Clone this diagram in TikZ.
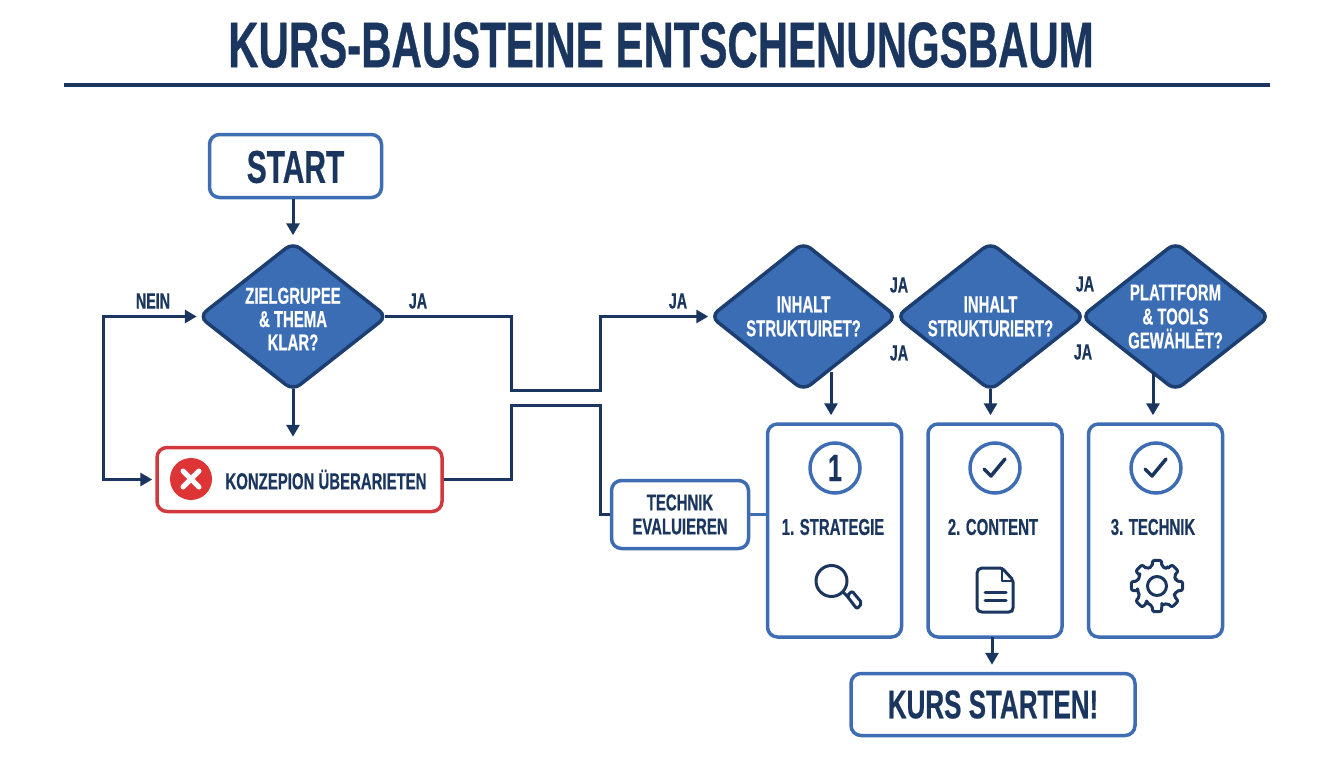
\documentclass[tikz,border=0pt]{standalone}
\usepackage{fontspec}
\usetikzlibrary{shapes.geometric,arrows.meta,calc}
\newfontfamily\cond[FakeStretch=0.65,BoldFeatures={FakeBold=0.5}]{Liberation Sans}
\definecolor{navy}{HTML}{1A365F}
\definecolor{blueline}{HTML}{3F6DB3}
\definecolor{bluefill}{HTML}{3B6DB5}
\definecolor{dstroke}{HTML}{1C3E70}
\definecolor{redline}{HTML}{D2393F}
\definecolor{redfill}{HTML}{DD3435}
\newcommand{\fsz}[2]{\fontsize{#1}{#2}\selectfont\cond\bfseries}
\tikzset{
  flow/.style={draw=navy,line width=3pt,line join=miter},
  tip/.style={-{Triangle[length=12pt,width=13pt]}},
  rbox/.style={draw=blueline,line width=3.5pt,rounded corners=10pt,fill=white,text=navy,align=center,inner sep=0pt},
  card/.style={rbox,minimum width=134pt,minimum height=213pt},
  decide/.style={diamond,draw=dstroke,line width=3.5pt,fill=bluefill,text=white,align=center,inner sep=0pt,
     rounded corners=9pt,minimum width=189pt,minimum height=149pt,shape aspect=1.26,font=\fsz{23}{24}},
  lab/.style={text=navy,font=\fsz{22}{22},inner sep=0pt},
  cardlab/.style={text=navy,font=\fsz{23}{24},inner sep=0pt},
  ic/.style={draw=navy,line width=3pt,line cap=round,line join=round},
  ring/.style={circle,draw=blueline,line width=3.5pt,minimum size=50pt,inner sep=0pt,text=navy},
}
\begin{document}
\begin{tikzpicture}[x=1pt,y=-1pt]
\useasboundingbox (0,0) rectangle (1344,768);
\fill[white] (0,0) rectangle (1344,768);

\node[text=navy,font=\fsz{64.6}{65},inner sep=0pt] (title) at (661,45) {KURS-BAUSTEINE ENTSCHENUNGSBAUM};
\coordinate (ruleL) at (64,85); \coordinate (ruleR) at (1270,85);
\draw[navy,line width=3pt] (ruleL) -- (ruleR);

\node[rbox,minimum width=172pt,minimum height=63pt] (start) at (295.5,166) {};
\node[text=navy,font=\fsz{46}{46},inner sep=0pt] (starttext) at (295.5,167) {START};
\node[decide] (d1) at (293,316.5) {};
\node[text=white,align=center,font=\fsz{23}{23.3},inner sep=0pt] (d1text) at (293,319) {ZIELGRUPEE\\\& THEMA\\KLAR?};
\node[decide,minimum width=187pt] (d2) at (803.5,316.5) {INHALT\\STRUKTUIRET?};
\node[decide] (d3) at (990.5,316.5) {INHALT\\STRUKTURIERT?};
\node[decide] (d4) at (1175.5,316.5) {PLATTFORM\\\& TOOLS\\GEWÄHLĒT?};

\node[rbox,draw=redline,minimum width=285pt,minimum height=64pt] (red) at (299.5,479.5) {};
\node[circle,fill=redfill,minimum size=42pt,inner sep=0pt] (xmark) at (191,479) {};
\draw[white,line width=5pt,line cap=round] ($(xmark)+(-8,-8)$) -- ($(xmark)+(8,8)$) ($(xmark)+(8,-8)$) -- ($(xmark)+(-8,8)$);
\node[text=navy,font=\fsz{23}{24},inner sep=0pt] (redtext) at (326,479.5) {KONZEPION ÜBERARIETEN};

\node[rbox,minimum width=137pt,minimum height=68pt,font=\fsz{23}{24}] (tech) at (680,514.5) {TECHNIK\\EVALUIEREN};
\node[card] (c1) at (834.5,530.5) {};
\node[card] (c2) at (995,530.5) {};
\node[card] (c3) at (1155.5,530.5) {};
\node[rbox,minimum width=284pt,minimum height=62pt,font=\fsz{40}{40}] (finish) at (993,704.5) {KURS STARTEN!};

\node[lab] (nein) at (153,301) {NEIN};
\node[lab] (ja1) at (418,301) {JA};
\node[lab] (ja2) at (678,301) {JA};
\node[lab] (ja3) at (899,285) {JA};
\node[lab] (ja4) at (899,353) {JA};
\node[lab] (ja5) at (1085,284) {JA};
\node[lab] (ja6) at (1083,352) {JA};

\draw[flow,tip,shorten >=5pt] (d1.north |- start.south) -- (d1.north);
\draw[flow,tip,shorten >=9pt] ([yshift=4pt]d1.south) -- (d1.south |- red.north);
\coordinate (l1) at (103,316.5); \coordinate (l2) at (103,479.5);
\draw[flow,{Triangle[length=12pt,width=13pt]}-{Triangle[length=12pt,width=13pt]},shorten >=3pt]
   (d1.west) -- (l1) -- (l2) -- (red.west);
\coordinate (m1) at (511,316.5); \coordinate (m2) at (511,390); \coordinate (m3) at (600,390); \coordinate (m4) at (600,316.5);
\draw[flow,tip] ([xshift=-4pt]d1.east) -- (m1) -- (m2) -- (m3) -- (m4) -- (d2.west);
\coordinate (n1) at (511,479.5); \coordinate (n2) at (511,405); \coordinate (n3) at (600,405); \coordinate (n4) at (600,514.5);
\draw[flow] (red.east) -- (n1) -- (n2) -- (n3) -- (n4) -- (tech.west);
\draw[draw=blueline,line width=3.5pt] (tech.east) -- (c1.west |- tech.east);
\coordinate (a1) at (831,372); \coordinate (a3) at (1153,372);
\draw[flow,tip,shorten >=7pt] (a1) -- (a1 |- c1.north);
\draw[flow,tip,shorten >=7pt] ([yshift=4pt]d3.south) -- (d3.south |- c2.north);
\draw[flow,tip,shorten >=7pt] (a3) -- (a3 |- c3.north);
\coordinate (a2) at (992,637);
\draw[flow,tip,shorten >=7pt] (a2) -- (a2 |- finish.north);

\node[ring,font=\fsz{38}{38}] (r1) at (835,468) {1};
\node[ring] (r2) at (995,468) {};
\node[ring] (r3) at (1156,468) {};
\draw[ic,line width=3.5pt] ($(r2)+(-11,1)$) -- ($(r2)+(-4,8)$) -- ($(r2)+(10,-9)$);
\draw[ic,line width=3.5pt] ($(r3)+(-11,1)$) -- ($(r3)+(-4,8)$) -- ($(r3)+(10,-9)$);
\node[cardlab] (t1) at (833,527) {1. STRATEGIE};
\node[cardlab] (t2) at (993,527) {2. CONTENT};
\node[cardlab] (t3) at (1153,527) {3. TECHNIK};

\draw[ic] (831.5,581) circle (15.5);
\draw[ic] (843,592) -- (848,597);
\draw[ic,rounded corners=2pt] (847,596) -- (852,591) -- (862,603) -- (857,609) -- cycle;
\draw[ic,rounded corners=2pt] (1002,568) -- (980,568) -- (977,571) -- (977,610) -- (980,612) -- (1011,612) -- (1013,610) -- (1013,580) -- cycle;
\draw[ic,line width=2.5pt] (1002,568) -- (1002,581) -- (1013,581);
\draw[ic] (985,592) -- (1006,592) (985,600) -- (1006,600);
\coordinate (g) at (1157,586);
\draw[ic,rounded corners=2pt] ([shift={(g)}]-14:20)
  \foreach \a in {0,45,...,315} { -- ([shift={(g)}]\a-14:20) -- ([shift={(g)}]\a-10:26) -- ([shift={(g)}]\a+10:26) -- ([shift={(g)}]\a+14:20) -- ([shift={(g)}]\a+31:20) } -- cycle;
\draw[ic] (g) circle (9.5);
\end{tikzpicture}
\end{document}
